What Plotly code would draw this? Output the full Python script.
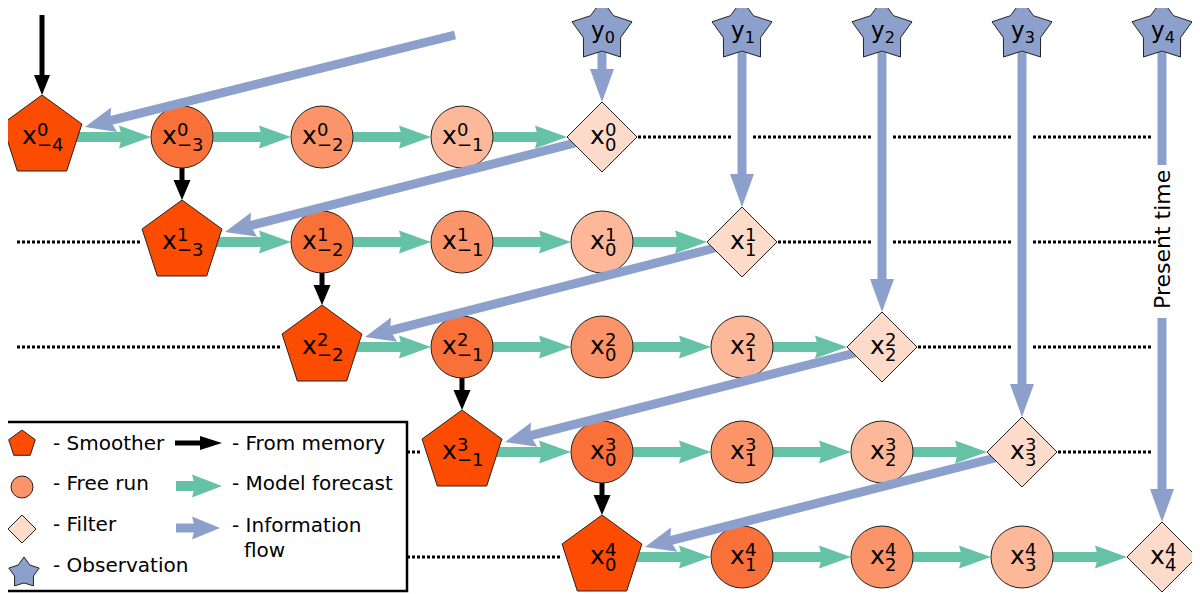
import math
import plotly.graph_objects as go

# analysis cycles (superscript) and time index (subscript)
rows = [0, 1, 2, 3, 4]
times = [-4, -3, -2, -1, 0, 1, 2, 3, 4]
obs_times = [0, 1, 2, 3, 4]
row_kinds = ["smoother", "free", "free", "free", "filter"]
legend_nodes = ["- Smoother", "- Free run", "- Filter", "- Observation"]
legend_arrows = ["- From memory", "- Model forecast", "- Information"]

# colours
C_SMOOTH = "#FC4C02"
C_FREE = ["#FA7039", "#FB9569", "#FCB899"]
C_FILTER = "#FDDBCB"
C_OBS = "#8DA0CB"
C_GREEN = "#66C2A5"
C_BLUE = "#8DA0CB"

# grid geometry (pixels)
X0, DX = 42, 140
Y0, DY = 137, 105
R_PENT, R_CIRC, R_DIAM = 42, 31, 35
STAR_Y, R_STAR = 31.5, 31.5
RIGHT_END = 1156
PAGE_MARGIN = 8  # default body margin of the html page

FONT = "DejaVu Sans"


def col_x(c):
    return X0 + DX * c


def row_y(r):
    return Y0 + DY * r


shapes = []
annotations = []


def poly(pts, fill, line_color="#222", lw=1):
    path = "M " + " L ".join(f"{x:.1f},{y:.1f}" for x, y in pts) + " Z"
    shapes.append(dict(type="path", path=path, fillcolor=fill,
                       line=dict(color=line_color, width=lw), layer="above"))


def pentagon(cx, cy, r, fill):
    pts = [(cx + r * math.sin(math.radians(a)), cy - r * math.cos(math.radians(a)))
           for a in range(0, 360, 72)]
    poly(pts, fill)


def diamond(cx, cy, h, fill):
    poly([(cx, cy - h), (cx + h, cy), (cx, cy + h), (cx - h, cy)], fill)


def star(cx, cy, r, fill, ratio=0.62):
    pts = []
    for i in range(10):
        a = math.radians(36 * i)
        rr = r if i % 2 == 0 else r * ratio
        pts.append((cx + rr * math.sin(a), cy - rr * math.cos(a)))
    poly(pts, fill)


def circle(cx, cy, r, fill):
    shapes.append(dict(type="circle", x0=cx - r, x1=cx + r, y0=cy - r, y1=cy + r,
                       fillcolor=fill, line=dict(color="#222", width=1), layer="above"))


def line(x0, y0, x1, y1, color, w, dash=None):
    ln = dict(color=color, width=w)
    if dash:
        ln["dash"] = dash
    shapes.append(dict(type="line", x0=x0, y0=y0, x1=x1, y1=y1, line=ln, layer="above"))


def arrow(x0, y0, x1, y1, w, hl, hw, color, notch=4):
    dx, dy = x1 - x0, y1 - y0
    L = math.hypot(dx, dy)
    ux, uy = dx / L, dy / L
    bx, by = x1 - ux * hl, y1 - uy * hl
    line(x0, y0, bx + ux * (notch + 1), by + uy * (notch + 1), color, w)
    poly([(x1, y1),
          (bx - uy * hw / 2, by + ux * hw / 2),
          (bx + ux * notch, by + uy * notch),
          (bx + uy * hw / 2, by - ux * hw / 2)], color, color, 0)


def text(x, y, s, size, xanchor="center", angle=0):
    annotations.append(dict(x=x, y=y, text=s, showarrow=False, xanchor=xanchor,
                            yanchor="middle", textangle=angle,
                            font=dict(family=FONT, size=size, color="black")))


def node_label(cx, cy, sup, sub):
    sub_s = str(sub).replace("-", "\u2212")
    w_sub = 11.4 * len(str(abs(sub))) + (15 if sub < 0 else 0)
    w_sup = 11.4 * len(str(sup))
    left = cx - (14.8 + max(w_sub, w_sup)) / 2
    text(left - 1, cy - 2, "x", 25, "left")
    text(left + 14, cy - 7.5, str(sup), 18, "left")
    text(left + 14, cy + 7.5, sub_s, 18, "left")


# 1. dotted lines
for r in rows:
    y = row_y(r)
    if r > 0:
        line(17, y, col_x(r) - 40, y, "black", 3, "3px,2px")
    line(col_x(r + 4) + R_DIAM + 1, y, RIGHT_END, y, "black", 3, "3px,2px")

# 2. observation arrows (vertical) with white casing
for k in obs_times:
    cx = col_x(4 + k)
    tip = row_y(k) - R_DIAM
    if k == 4:
        line(cx, STAR_Y + 20, cx, 165, "white", 18)
        line(cx, 318, cx, tip - 30, "white", 18)
        line(cx, STAR_Y + 20, cx, 165, C_BLUE, 9)
        arrow(cx, 318, cx, tip, 9, 33, 24, C_BLUE, notch=0)
        text(cx, 240, "Present time", 22, angle=-90)
    else:
        line(cx, STAR_Y + 20, cx, tip - 30, "white", 18)
        arrow(cx, STAR_Y + 20, cx, tip, 9, 33, 24, C_BLUE, notch=0)

# 3. model forecast arrows
for r in rows:
    for k in range(4):
        x_start = col_x(r + k) + 30
        x_end = col_x(r + k + 1) - (R_DIAM if k == 3 else R_CIRC)
        arrow(x_start, row_y(r), x_end, row_y(r), 10, 32, 23, C_GREEN, notch=3)

# 4. from memory arrows
arrow(col_x(0), 15, col_x(0), row_y(0) - R_PENT, 5, 20, 16, "black", notch=0)
for r in rows[:-1]:
    cx = col_x(r + 1)
    arrow(cx, row_y(r) + R_CIRC, cx, row_y(r + 1) - R_PENT, 5, 20, 17, "black", notch=0)

# 5. smoother and free-run nodes
for r in rows:
    for k, kind in enumerate(row_kinds):
        cx, cy = col_x(r + k), row_y(r)
        if kind == "smoother":
            pentagon(cx, cy, R_PENT, C_SMOOTH)
        elif kind == "free":
            circle(cx, cy, R_CIRC, C_FREE[k - 1])

# 6. information flow arrows (diagonal)
arrow(455, 35, col_x(0) + 43, row_y(0) - 10, 9, 30, 25, C_BLUE)
for r in rows[:-1]:
    arrow(col_x(r + 4) - 27, row_y(r) + 6, col_x(r + 1) + 43, row_y(r + 1) - 10,
          9, 30, 25, C_BLUE)

# 7. filter nodes and observations
for r in rows:
    diamond(col_x(r + 4), row_y(r), R_DIAM, C_FILTER)
for k in obs_times:
    star(col_x(4 + k), STAR_Y, R_STAR, C_OBS)
    text(col_x(4 + k) + 1, STAR_Y, f"y<sub>{k}</sub>", 23)

# node labels
for r in rows:
    for k in range(len(row_kinds)):
        c = r + k
        node_label(col_x(c), row_y(r), r, times[c])

# 8. legend
shapes.append(dict(type="rect", x0=2, x1=407, y0=422, y1=591, fillcolor="white",
                   line=dict(color="black", width=2.5), layer="above"))
pentagon(22, 444, 14, C_SMOOTH)
circle(22, 487, 11, C_FREE[1])
diamond(22, 529, 14, C_FILTER)
star(24, 573, 16, C_OBS)
for s, y in zip(legend_nodes, [443, 483, 524, 565]):
    text(51, y, s, 20, "left")
arrow(175, 443, 222, 443, 5, 22, 14, "black", notch=0)
arrow(176, 486, 222, 486, 10, 30, 23, C_GREEN, notch=3)
arrow(176, 528, 220, 528, 9, 28, 23, C_BLUE, notch=3)
for s, y in zip(legend_arrows, [443, 483, 525]):
    text(230, y, s, 20, "left")
text(242, 550, "flow", 20, "left")

fig = go.Figure(go.Scatter(x=[0], y=[0], mode="markers", marker=dict(opacity=0),
                           hoverinfo="skip"))
fig.update_layout(
    width=1200, height=594,
    margin=dict(l=0, r=0, t=0, b=0),
    paper_bgcolor="white", plot_bgcolor="white",
    showlegend=False,
    shapes=shapes, annotations=annotations,
    xaxis=dict(range=[PAGE_MARGIN, 1200 + PAGE_MARGIN], visible=False, fixedrange=True),
    yaxis=dict(range=[594 + PAGE_MARGIN, PAGE_MARGIN], visible=False, fixedrange=True),
)
fig.write_html("out.html")
